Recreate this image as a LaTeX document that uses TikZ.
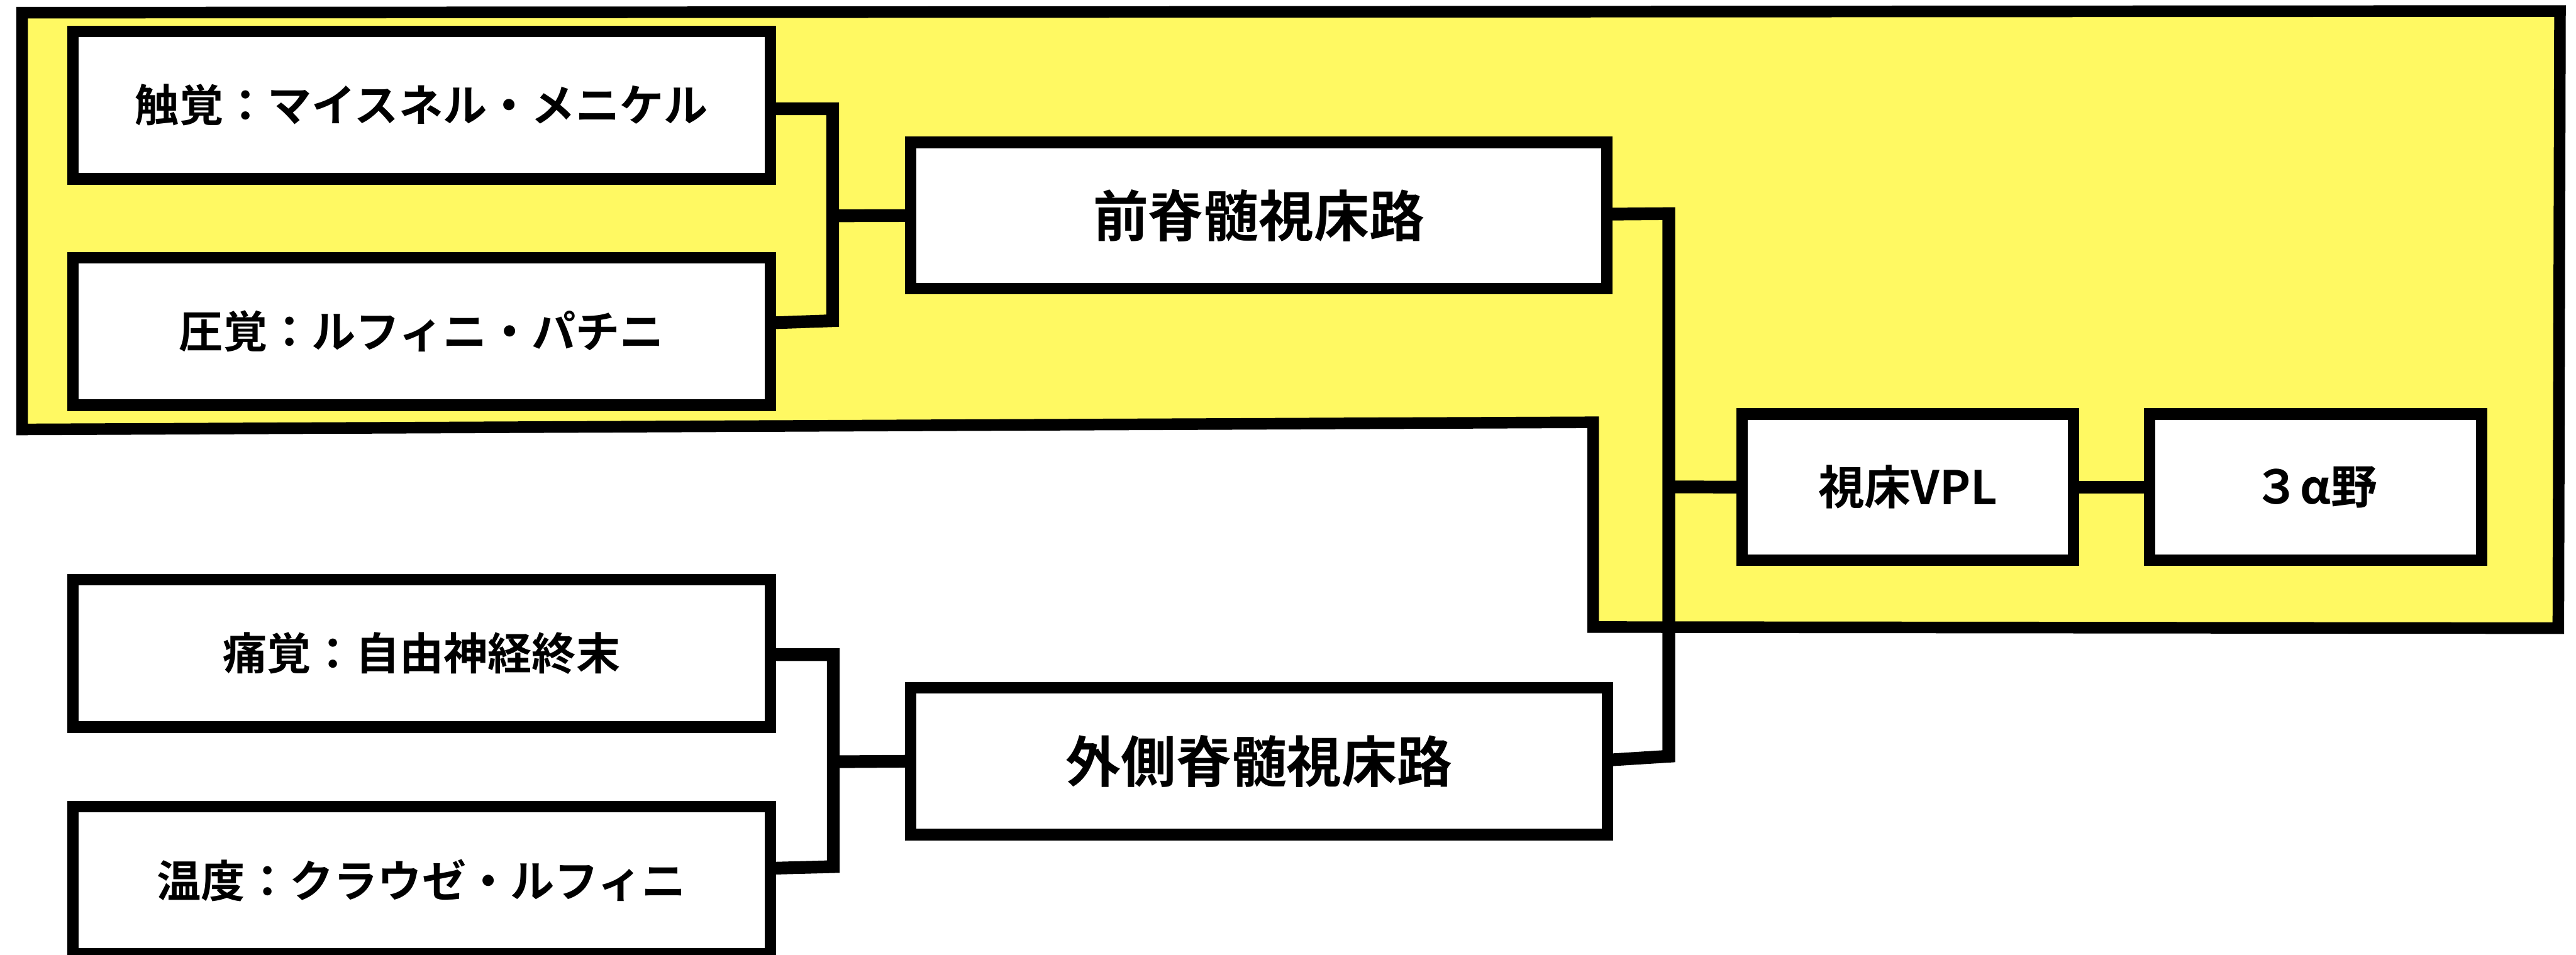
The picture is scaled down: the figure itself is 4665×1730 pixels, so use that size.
\documentclass[tikz,border=0pt]{standalone}
\usepackage{fontspec}
\newfontfamily\jp[BoldFont={Noto Sans CJK JP Bold}]{Noto Sans CJK JP}
\definecolor{yel}{RGB}{255,249,98}
\tikzset{
  boxnode/.style={draw=black, fill=white, line width=2.1pt, rectangle, inner sep=0pt, outer sep=0pt,
    font=\jp\bfseries\fontsize{8pt}{9pt}\selectfont},
  bigbox/.style={boxnode, font=\jp\bfseries\fontsize{10pt}{12pt}\selectfont},
  smallbox/.style={boxnode, font=\jp\bfseries\fontsize{8.4pt}{10pt}\selectfont},
  conn/.style={draw=black, line width=2.3pt, line join=miter, line cap=butt},
  region/.style={draw=black, fill=yel, line width=2.1pt, line join=miter}
}
\begin{document}
\begin{tikzpicture}[x=0.1pt, y=-0.1pt]
\useasboundingbox (0,0) rectangle (4665,1730);
% yellow region
\draw[region] (40,23) -- (4636,20) -- (4633,1138) -- (2885,1136) -- (2885,765) -- (40,778) -- cycle;

% junction coordinates
\coordinate (jA1) at (1508,197);
\coordinate (jA2) at (1508,581);
\coordinate (jAB) at (1508,391);
\coordinate (jC1) at (3022,387);
\coordinate (jC2) at (3022,1370);
\coordinate (jG) at (3022,882);
\coordinate (jD1) at (1509,1186);
\coordinate (jD2) at (1509,1570);
\coordinate (jDE) at (1509,1380);

% boxes
\path
  (763.5,190.5) node[boxnode, minimum width=126.3pt, minimum height=26.7pt] (A) {触覚：マイスネル・メニケル}
  (763.5,600.5) node[boxnode, minimum width=126.3pt, minimum height=26.7pt] (B) {圧覚：ルフィニ・パチニ}
  (2279.5,390.5) node[bigbox, minimum width=126.1pt, minimum height=26.5pt] (C) {前脊髄視床路}
  (763.5,1183.5) node[boxnode, minimum width=126.3pt, minimum height=26.7pt] (D) {痛覚：自由神経終末}
  (763.5,1594.5) node[boxnode, minimum width=126.3pt, minimum height=26.7pt] (E) {温度：クラウゼ・ルフィニ}
  (2280,1379) node[bigbox, minimum width=126.2pt, minimum height=26.6pt] (F) {外側脊髄視床路}
  (3455,882.5) node[smallbox, minimum width=60pt, minimum height=26.5pt] (G) {視床VPL}
  (4193.5,882.5) node[smallbox, minimum width=60.1pt, minimum height=26.5pt] (H) {３α野};

% connectors
\draw[conn] ([yshift=-0.65pt]A.east) -- (jA1) -- (jA2) -- ([yshift=1.55pt]B.east);
\draw[conn] (jAB) -- (C.west);
\draw[conn] ([yshift=0.25pt]C.east) -- (jC1) -- (jC2) -- ([yshift=0.2pt]F.east);
\draw[conn] (jG) -- (G.west);
\draw[conn] (G.east) -- (H.west);
\draw[conn] ([yshift=-0.25pt]D.east) -- (jD1) -- (jD2) -- ([yshift=2.15pt]E.east);
\draw[conn] (jDE) -- (F.west);

% redraw box borders on top of connector ends
\foreach \n in {A,B,C,D,E,F,G,H}{
  \draw[line width=2.1pt] (\n.south west) rectangle (\n.north east);
}
\end{tikzpicture}
\end{document}
